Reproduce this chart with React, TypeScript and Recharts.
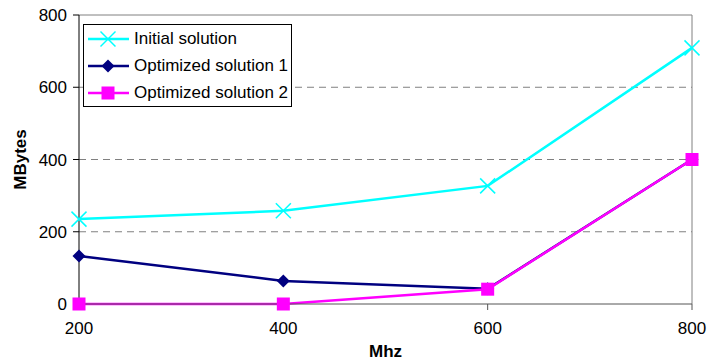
import React from "react";
import {
  LineChart,
  Line,
  XAxis,
  YAxis,
  ReferenceLine,
} from "recharts";

const mhz = [200, 400, 600, 800];
const initialSolution = [235, 258, 327, 709];
const optimized1 = [133, 64, 42, 400];
const optimized2 = [0, 0, 41, 400];
const yTicks = [0, 200, 400, 600, 800];
const gridValues = [200, 400, 600];

const data = mhz.map((m, i) => ({
  mhz: m,
  initial: initialSolution[i],
  opt1: optimized1[i],
  opt2: optimized2[i],
}));

const FONT = "'Liberation Sans', Arial, sans-serif";

const CrossDot = (props: any) => {
  const { cx, cy } = props;
  if (cx == null || cy == null) return null;
  const s = 7.5;
  return (
    <g stroke="#00FFFF" strokeWidth={1.5}>
      <line x1={cx - s} y1={cy - s} x2={cx + s} y2={cy + s} />
      <line x1={cx - s} y1={cy + s} x2={cx + s} y2={cy - s} />
    </g>
  );
};

const DiamondDot = (props: any) => {
  const { cx, cy } = props;
  if (cx == null || cy == null) return null;
  const s = 6.5;
  return (
    <path
      d={`M${cx},${cy - s}L${cx + s},${cy}L${cx},${cy + s}L${cx - s},${cy}Z`}
      fill="#000080"
    />
  );
};

const SquareDot = (props: any) => {
  const { cx, cy } = props;
  if (cx == null || cy == null) return null;
  const s = 6.5;
  return <rect x={cx - s} y={cy - s} width={2 * s} height={2 * s} fill="#FF00FF" />;
};

const legendItems = [
  { label: "Initial solution", color: "#00FFFF", Dot: CrossDot },
  { label: "Optimized solution 1", color: "#000080", Dot: DiamondDot },
  { label: "Optimized solution 2", color: "#FF00FF", Dot: SquareDot },
];

function ChartLegend() {
  return (
    <div
      style={{
        position: "absolute",
        left: 83,
        top: 24,
        border: "1px solid #000",
        background: "#fff",
        width: 207,
        height: 81,
        fontFamily: FONT,
        fontSize: 17,
        color: "#000",
        whiteSpace: "nowrap",
      }}
    >
      {legendItems.map((it) => (
        <div
          key={it.label}
          style={{ display: "flex", alignItems: "center", height: 27 }}
        >
          <svg width={46} height={20} style={{ marginLeft: 4 }}>
            <line x1={0} y1={10} x2={41} y2={10} stroke={it.color} strokeWidth={2.5} />
            <it.Dot cx={20} cy={10} />
          </svg>
          <span>{it.label}</span>
        </div>
      ))}
    </div>
  );
}

export default function App() {
  return (
    <div style={{ position: "absolute", left: 0, top: 0, width: 708, height: 362, background: "#fff" }}>
      <LineChart
        width={708}
        height={362}
        data={data}
        margin={{ top: 15, right: 16, bottom: 0, left: 0 }}
      >
        {gridValues.map((v) => (
          <ReferenceLine
            key={v}
            y={v}
            stroke="#808080"
            strokeDasharray="7 5"
            strokeWidth={1}
          />
        ))}
        <ReferenceLine y={800} stroke="#808080" strokeWidth={1} />
        <ReferenceLine x={800} stroke="#808080" strokeWidth={1} />
        <XAxis
          dataKey="mhz"
          type="number"
          domain={[200, 800]}
          ticks={mhz}
          height={58}
          stroke="#555"
          tickSize={6}
          tickMargin={12}
          tick={{ fill: "#000", fontSize: 17, fontFamily: FONT }}
          label={{
            value: "Mhz",
            position: "insideBottom",
            offset: 5,
            style: { fontWeight: "bold", fontSize: 17, fontFamily: FONT, fill: "#000" },
          }}
        />
        <YAxis
          width={79}
          domain={[0, 800]}
          ticks={yTicks}
          stroke="#000"
          tickSize={6}
          tickMargin={6}
          tick={{ fill: "#000", fontSize: 17, fontFamily: FONT }}
          label={{
            value: "MBytes",
            angle: -90,
            position: "insideLeft",
            offset: 20,
            style: {
              textAnchor: "middle",
              fontWeight: "bold",
              fontSize: 17,
              fontFamily: FONT,
              fill: "#000",
            },
          }}
        />
        <Line
          dataKey="initial"
          stroke="#00FFFF"
          strokeWidth={2.5}
          dot={<CrossDot />}
          isAnimationActive={false}
        />
        <Line
          dataKey="opt1"
          stroke="#000080"
          strokeWidth={2.5}
          dot={<DiamondDot />}
          isAnimationActive={false}
        />
        <Line
          dataKey="opt2"
          stroke="#FF00FF"
          strokeWidth={2.5}
          dot={<SquareDot />}
          isAnimationActive={false}
        />
      </LineChart>
      <ChartLegend />
    </div>
  );
}
